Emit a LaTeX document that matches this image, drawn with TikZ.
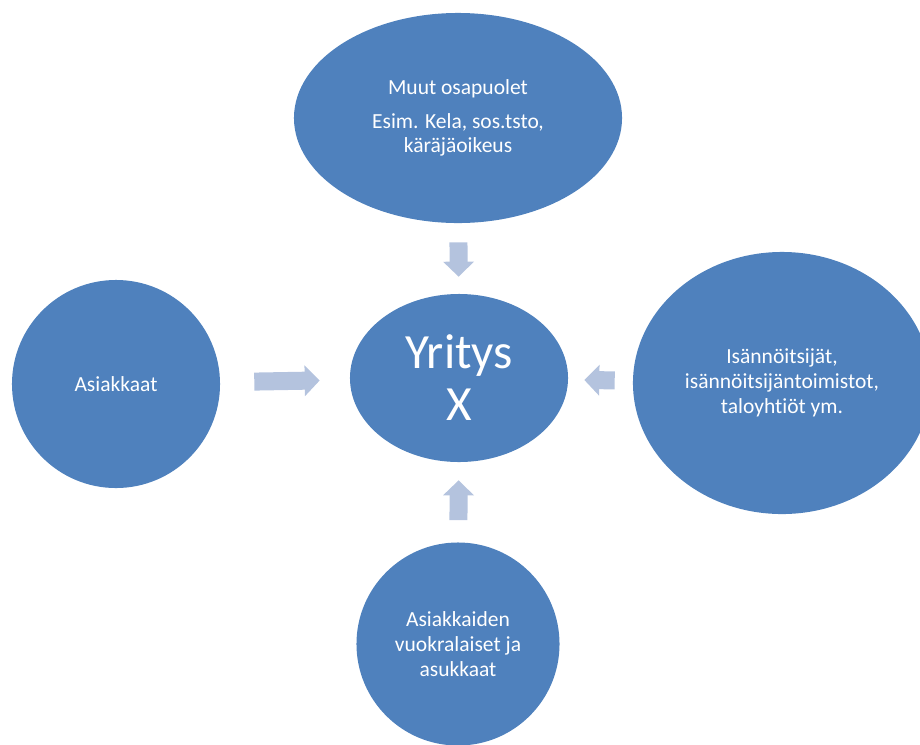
\documentclass[tikz,border=0pt]{standalone}
\usepackage{fontspec}
\setmainfont{Carlito}[Ligatures=NoCommon]
\usetikzlibrary{arrows.meta}
\usetikzlibrary{shapes}
\definecolor{blob}{HTML}{4F81BD}
\definecolor{pil}{HTML}{B4C3DE}

\begin{document}
\begin{tikzpicture}[x=0.025cm,y=-0.025cm]
\useasboundingbox (0,0) rectangle (920,744);
\begin{scope}[every node/.style={ellipse,fill=blob,text=white,inner sep=0pt,align=center,
              font=\fontsize{15.3}{17.7}\selectfont}]
    \node[minimum width=8.2cm,minimum height=5.25cm] (M) at (458,118)
        {Muut osapuolet\\[0.22cm]Esim. Kela, sos.tsto,\\käräjäoikeus};
    \node[minimum width=5.2cm,minimum height=5.2cm] (A) at (116,384) {Asiakkaat};
    \node[minimum width=7.45cm,minimum height=6.55cm] (I) at (782,383)
        {Isännöitsijät,\\isännöitsijäntoimistot,\\taloyhtiöt ym.};
    \node[minimum width=5.075cm,minimum height=5.075cm] (V) at (458,644)
        {Asiakkaiden\\vuokralaiset ja\\asukkaat};
    \node[minimum width=5.45cm,minimum height=4.2cm,font=\fontsize{35}{37}\selectfont] (Y) at (459,378)
        {Yritys\\X};
\end{scope}
\begin{scope}[every edge/.style={draw=pil,line width=0.45cm,
              -{Triangle[length=0.375cm,width=0.75cm]}}]
    \path (A) edge[shorten <=0.85cm,shorten >=0.75cm] (Y);
    \path (M) edge[shorten <=0.475cm,shorten >=0.425cm] (Y);
    \path (I) edge[shorten <=0.45cm,shorten >=0.4cm] (Y);
    \path (V) edge[shorten <=0.55cm,shorten >=0.45cm] (Y);
\end{scope}
\end{tikzpicture}
\end{document}
